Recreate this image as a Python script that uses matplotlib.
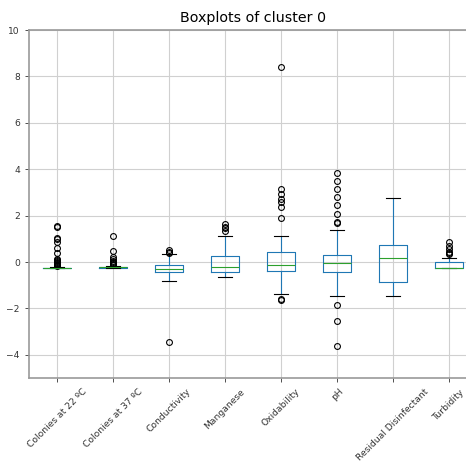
import matplotlib
matplotlib.use("Agg")
import matplotlib.pyplot as plt

# standardised variables of cluster 0
labels = ['Colonies at 22 ºC', 'Colonies at 37 ºC', 'Conductivity', 'Manganese',
          'Oxidability', 'pH', 'Residual Disinfectant', 'Turbidity']

medians = [-0.26, -0.23, -0.29, -0.22, -0.12, -0.06, 0.19, -0.27]
q1 = [-0.27, -0.25, -0.42, -0.45, -0.39, -0.45, -0.88, -0.27]
q3 = [-0.24, -0.21, -0.13, 0.26, 0.42, 0.29, 0.73, -0.01]
whis_lo = [-0.28, -0.27, -0.81, -0.63, -1.37, -1.48, -1.48, -0.27]
whis_hi = [-0.20, -0.19, 0.33, 1.12, 1.12, 1.37, 2.75, 0.19]
outliers = [
    [1.57, 1.50, 1.03, 0.97, 0.88, 0.62, 0.40, 0.12, 0.08, 0.04, 0.0,
     -0.03, -0.06, -0.09, -0.12, -0.15, -0.17],
    [1.14, 0.48, 0.20, 0.12, 0.06, 0.0, -0.05, -0.10, -0.15],
    [0.50, 0.45, 0.38, -3.44],
    [1.62, 1.53, 1.45, 1.35],
    [8.40, 3.14, 2.92, 2.72, 2.60, 2.39, 1.89, -1.58, -1.64],
    [3.85, 3.48, 3.14, 2.79, 2.45, 2.06, 1.74, 1.70, -1.86, -2.55, -3.61],
    [],
    [0.88, 0.70, 0.56, 0.42, 0.38, 0.35],
]


def build_stats():
    stats = []
    for i, name in enumerate(labels):
        stats.append({'label': name, 'med': medians[i], 'q1': q1[i], 'q3': q3[i],
                      'whislo': whis_lo[i], 'whishi': whis_hi[i],
                      'fliers': outliers[i]})
    return stats


def main():
    fig = plt.figure(figsize=(4.66, 4.62), dpi=100)
    ax = fig.add_axes([29 / 466, 84 / 462, 448 / 466, 348 / 462])

    ax.bxp(build_stats(), widths=0.5,
           boxprops=dict(color='#1f77b4', linewidth=0.8),
           whiskerprops=dict(color='#1f77b4', linewidth=0.8),
           capprops=dict(color='black', linewidth=0.8),
           medianprops=dict(color='#2ca02c', linewidth=0.8),
           flierprops=dict(marker='o', markerfacecolor='none',
                           markeredgecolor='black', markersize=4.2,
                           markeredgewidth=0.8))

    ax.set_ylim(-5, 10)
    ax.set_xlim(0.5, 8.5)
    ax.grid(True, color='#d0d0d0', linewidth=0.8)
    ax.set_axisbelow(True)
    for sp in ax.spines.values():
        sp.set_color('#999999')
        sp.set_linewidth(1.2)
    ax.tick_params(axis='both', labelsize=6.6, colors='#333333', length=3,
                   width=0.6)
    ax.set_xticklabels(labels, rotation=45, ha='center')
    ax.set_title('Boxplots of cluster 0', fontsize=10.3)

    fig.savefig('out.png', dpi=100)


if __name__ == "__main__":
    main()
